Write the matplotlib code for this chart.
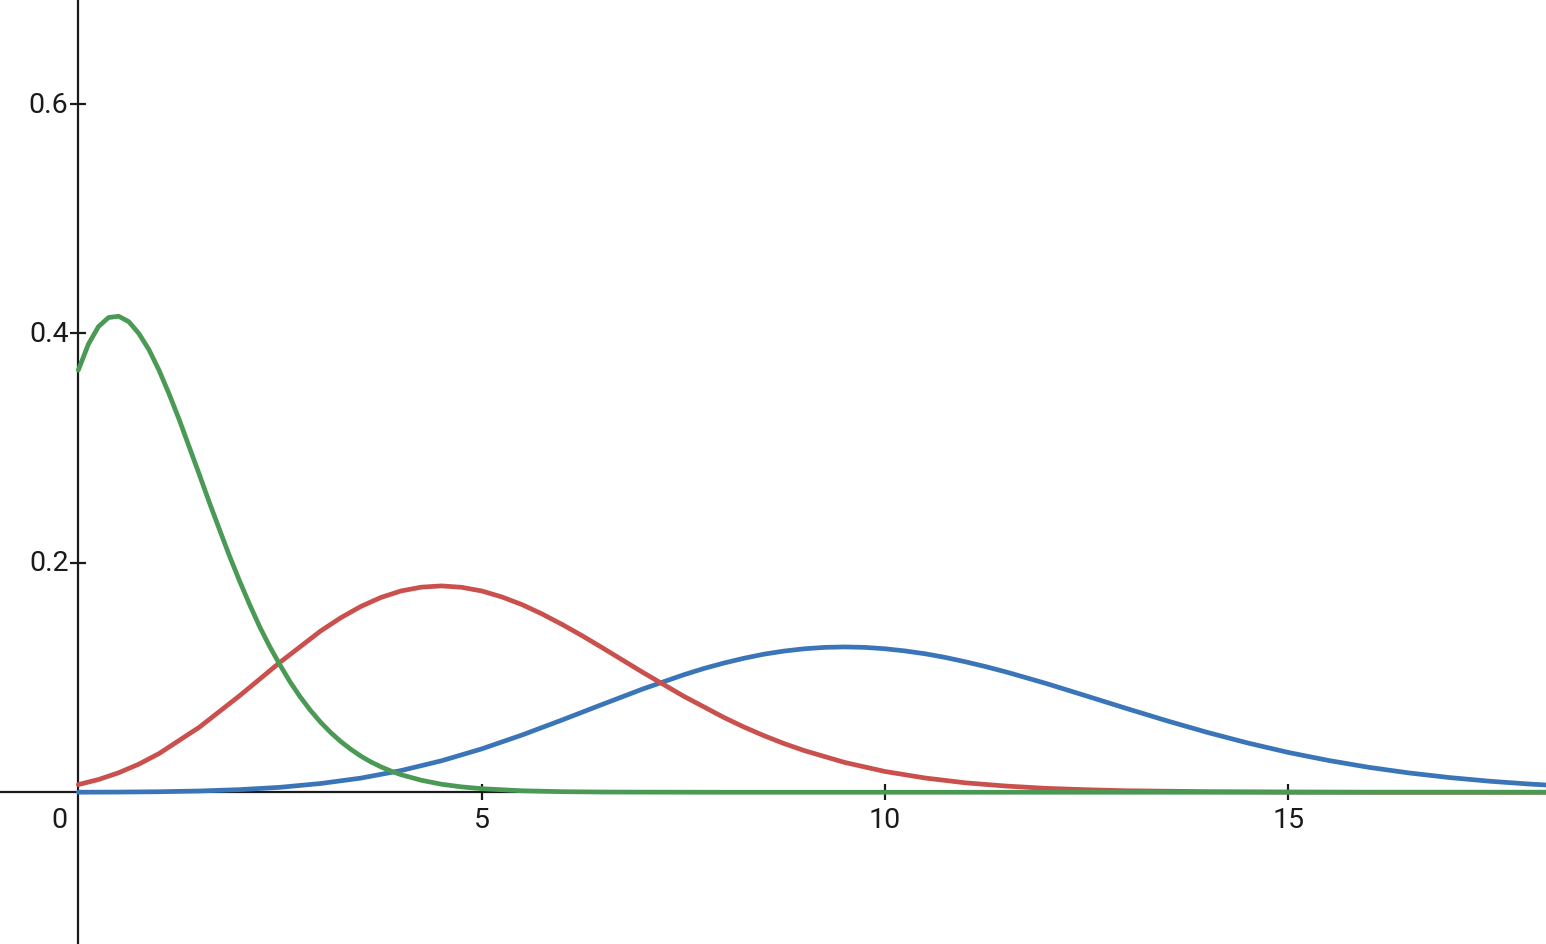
import matplotlib
matplotlib.use("Agg")
import matplotlib.pyplot as plt

# ---- data ----
x_green = [0, 0.125, 0.25, 0.375, 0.5, 0.625, 0.75, 0.875, 1, 1.125, 1.25, 1.375, 1.5,
           1.625, 1.75, 1.875, 2, 2.125, 2.25, 2.375, 2.5, 2.625, 2.75, 2.875, 3, 3.125,
           3.25, 3.375, 3.5, 3.625, 3.75, 3.875, 4, 4.25, 4.5, 4.75, 5, 5.5, 6, 6.5, 7,
           8, 10, 12, 14, 16, 18.5]
y_green = [0.368, 0.3907, 0.406, 0.4139, 0.415, 0.4103, 0.400, 0.3859, 0.368, 0.3473,
           0.325, 0.3010, 0.277, 0.2525, 0.229, 0.2058, 0.184, 0.1634, 0.144, 0.1267,
           0.111, 0.0962, 0.0832, 0.0716, 0.0613, 0.0523, 0.0444, 0.0376, 0.0316, 0.0265,
           0.0222, 0.0185, 0.0153, 0.0105, 0.0070, 0.0047, 0.0031, 0.0013, 0.0005,
           0.0002, 0.0001, 0.0, 0.0, 0.0, 0.0, 0.0, 0.0]

x_red = [0, 0.25, 0.5, 0.75, 1, 1.5, 2, 2.5, 3, 3.25, 3.5, 3.75, 4, 4.25, 4.5, 4.75, 5,
         5.25, 5.5, 5.75, 6, 6.25, 6.5, 7, 7.5, 8, 8.25, 8.5, 8.75, 9, 9.5, 10, 10.5, 11,
         11.5, 12, 12.5, 13, 14, 15, 16, 18.5]
y_red = [0.0067, 0.0111, 0.0170, 0.0245, 0.0337, 0.0567, 0.0842, 0.1133, 0.1404, 0.1520,
         0.1619, 0.1698, 0.1755, 0.1788, 0.1799, 0.1787, 0.1755, 0.1703, 0.1636, 0.1554,
         0.1462, 0.1363, 0.1258, 0.1044, 0.0839, 0.0653, 0.0569, 0.0493, 0.0424, 0.0363,
         0.0260, 0.0181, 0.0124, 0.0082, 0.0054, 0.0034, 0.0022, 0.0013, 0.0005, 0.0002,
         0.0, 0.0]

x_blue = [0, 0.5, 1, 1.5, 2, 2.5, 3, 3.5, 4, 4.5, 5, 5.5, 6, 6.5, 7, 7.5, 7.75, 8, 8.25,
          8.5, 8.75, 9, 9.25, 9.5, 9.75, 10, 10.25, 10.5, 10.75, 11, 11.25, 11.5, 12,
          12.5, 13, 13.5, 14, 14.5, 15, 15.5, 16, 16.5, 17, 17.5, 18, 18.5]
y_blue = [0.00005, 0.00016, 0.00045, 0.0011, 0.0023, 0.0043, 0.0076, 0.0123, 0.0189,
          0.0274, 0.0378, 0.0499, 0.0631, 0.0767, 0.0901, 0.1023, 0.1078, 0.1126, 0.1168,
          0.1204, 0.1231, 0.1251, 0.1263, 0.1267, 0.1263, 0.1251, 0.1232, 0.1207, 0.1175,
          0.1137, 0.1095, 0.1049, 0.0948, 0.0839, 0.0729, 0.0622, 0.0521, 0.0429, 0.0347,
          0.0277, 0.0217, 0.0168, 0.0128, 0.0096, 0.0071, 0.0052]

x_ticks = [5, 10, 15]
x_tick_labels = ["5", "10", "15"]
y_ticks = [0.2, 0.4, 0.6]
y_tick_labels = ["0.2", "0.4", "0.6"]

# ---- styling ----
plt.rcParams['font.family'] = ['Roboto', 'DejaVu Sans']
BLUE = "#3a75b8"
RED = "#c9504c"
GREEN = "#4a9a56"
AXIS = "#1a1a1a"

fig = plt.figure(figsize=(15.46, 9.45), dpi=100)
ax = fig.add_axes([0, 0, 1, 1])
ax.set_xlim(-0.971, 18.194)
ax.set_ylim(-0.1323, 0.6916)

ax.plot(x_blue, y_blue, color=BLUE, lw=3.4, solid_capstyle='round',
        solid_joinstyle='round', zorder=3)
ax.plot(x_red, y_red, color=RED, lw=3.4, solid_capstyle='round',
        solid_joinstyle='round', zorder=4)
ax.plot(x_green, y_green, color=GREEN, lw=3.4, solid_capstyle='round',
        solid_joinstyle='round', zorder=5)

for s in ["top", "right"]:
    ax.spines[s].set_visible(False)
for s in ["left", "bottom"]:
    ax.spines[s].set_position(("data", 0))
    ax.spines[s].set_color(AXIS)
    ax.spines[s].set_linewidth(1.6)
    ax.spines[s].set_zorder(2)

ax.set_xticks(x_ticks)
ax.set_xticklabels([])
ax.set_yticks(y_ticks)
ax.set_yticklabels([])
ax.tick_params(axis="both", direction="inout", length=11, width=1.6, color=AXIS)

FS = 20.5
for xv, lab in zip(x_ticks, x_tick_labels):
    ax.annotate(lab, (xv, 0), xytext=(0, -10), textcoords="offset points",
                ha="center", va="top", fontsize=FS, color=AXIS)
for yv, lab in zip(y_ticks, y_tick_labels):
    ax.annotate(lab, (0, yv), xytext=(-7, 0), textcoords="offset points",
                ha="right", va="center", fontsize=FS, color=AXIS)
ax.annotate("0", (0, 0), xytext=(-7.5, -10), textcoords="offset points",
            ha="right", va="top", fontsize=FS, color=AXIS)

fig.savefig("out.png", dpi=100, facecolor="white")
